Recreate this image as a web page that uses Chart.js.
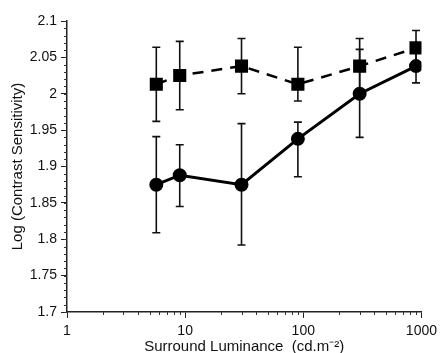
<!DOCTYPE html>
<html lang="en">
<head>
<meta charset="UTF-8">
<title>Contrast sensitivity vs surround luminance</title>
<style>
  html, body { margin: 0; padding: 0; background: #fff; }
  #wrap { width: 442px; height: 353px; }
</style>
</head>
<body>
<div id="wrap"><canvas id="myChart01"></canvas></div>
<script src="https://cdn.jsdelivr.net/npm/chart.js"></script>
<script>
// data
var luminance = [5.7, 9, 30, 90, 300, 900];
var squareVals = [2.013, 2.025, 2.038, 2.013, 2.038, 2.063];
var squareLow = [1.962, 1.978, 2.0, 1.99, 2.0, 2.038];
var squareHigh = [2.064, 2.072, 2.076, 2.064, 2.076, 2.087];
var circleVals = [1.875, 1.888, 1.875, 1.938, 2.0, 2.038];
var circleLow = [1.809, 1.845, 1.792, 1.886, 1.94, 2.015];
var circleHigh = [1.941, 1.930, 1.959, 1.961, 2.061, 2.06];
var xTickVals = [1, 10, 100, 1000];
var xMinorVals = [2, 3, 4, 5, 6, 7, 8, 9, 20, 30, 40, 50, 60, 70, 80, 90, 200, 300, 400, 500, 600, 700, 800, 900];
var yTickVals = [1.7, 1.75, 1.8, 1.85, 1.9, 1.95, 2, 2.05, 2.1];
var yMinorStep = 0.01;

var fontFam = '"Liberation Sans", Arial, Helvetica, sans-serif';

function toPoints(xs, ys) {
    return xs.map(function (x, i) { return { x: x, y: ys[i] }; });
}

// error bars + minor ticks
var errorBars = {
    id: 'errorBars',
    beforeDatasetsDraw: function (chart) {
        var ctx = chart.ctx;
        var xs = chart.scales.x, ys = chart.scales.y;
        var sets = [[squareLow, squareHigh], [circleLow, circleHigh]];
        ctx.save();
        ctx.strokeStyle = '#111';
        ctx.lineWidth = 1.6;
        sets.forEach(function (s) {
            luminance.forEach(function (lx, i) {
                var px = xs.getPixelForValue(lx);
                var y1 = ys.getPixelForValue(s[0][i]);
                var y2 = ys.getPixelForValue(s[1][i]);
                ctx.beginPath();
                ctx.moveTo(px, y1); ctx.lineTo(px, y2);
                ctx.moveTo(px - 4, y1); ctx.lineTo(px + 4, y1);
                ctx.moveTo(px - 4, y2); ctx.lineTo(px + 4, y2);
                ctx.stroke();
            });
        });
        ctx.restore();
    },
    afterDraw: function (chart) {
        var ctx = chart.ctx;
        var xs = chart.scales.x, ys = chart.scales.y;
        var area = chart.chartArea;
        ctx.save();
        ctx.strokeStyle = '#333';
        ctx.lineWidth = 1;
        ctx.beginPath();
        xMinorVals.forEach(function (v) {
            var px = Math.round(xs.getPixelForValue(v)) + 0.5;
            ctx.moveTo(px, area.bottom); ctx.lineTo(px, area.bottom + 3);
        });
        for (var v = 1.7; v <= 2.1001; v += yMinorStep) {
            var py = Math.round(ys.getPixelForValue(v)) + 0.5;
            ctx.moveTo(area.left - 3, py); ctx.lineTo(area.left, py);
        }
        ctx.stroke();
        ctx.restore();
    }
};

var ctx01 = document.getElementById('myChart01');
var chart01 = new Chart(ctx01, {
    type: 'scatter',
    data: {
        datasets: [{
            label: 'squares',
            data: toPoints(luminance, squareVals),
            showLine: true,
            borderColor: '#000',
            backgroundColor: '#000',
            borderWidth: 2.5,
            borderDash: [11, 8],
            pointStyle: 'rect',
            pointRadius: 7.5,
            pointHoverRadius: 7.5
        }, {
            label: 'circles',
            data: toPoints(luminance, circleVals),
            showLine: true,
            borderColor: '#000',
            backgroundColor: '#000',
            borderWidth: 3,
            pointStyle: 'circle',
            pointRadius: 5.5,
            pointHoverRadius: 5.5
        }]
    },
    options: {
        responsive: true,
        maintainAspectRatio: false,
        animation: false,
        layout: { padding: { top: 21, right: 18, left: 0, bottom: 0 } },
        plugins: { legend: { display: false }, tooltip: { enabled: false } },
        scales: {
            x: {
                type: 'logarithmic',
                min: 1,
                max: 1000,
                afterBuildTicks: function (scale) {
                    scale.ticks = xTickVals.map(function (v) { return { value: v }; });
                },
                afterFit: function (scale) { scale.height = 41; },
                grid: { drawOnChartArea: false, tickLength: 6, tickColor: '#222', tickWidth: 1 },
                border: { color: '#222', width: 1.5 },
                ticks: {
                    autoSkip: false,
                    maxRotation: 0,
                    padding: 5,
                    color: '#111',
                    font: { family: fontFam, size: 14 },
                    callback: function (v) { return String(v); }
                },
                title: {
                    display: true,
                    text: 'Surround Luminance  (cd.m\u207B\u00B2)',
                    color: '#111',
                    font: { family: fontFam, size: 15 },
                    padding: { top: 0, bottom: -3 }
                }
            },
            y: {
                min: 1.7,
                max: 2.1,
                afterBuildTicks: function (scale) {
                    scale.ticks = yTickVals.map(function (v) { return { value: v }; });
                },
                afterFit: function (scale) { scale.width = 67; },
                grid: { drawOnChartArea: false, tickLength: 6, tickColor: '#222', tickWidth: 1 },
                border: { color: '#222', width: 1.5 },
                ticks: {
                    autoSkip: false,
                    padding: 4,
                    color: '#111',
                    font: { family: fontFam, size: 14 },
                    callback: function (v) { return String(Number(v.toFixed(2))); }
                },
                title: {
                    display: true,
                    text: 'Log (Contrast Sensitivity)',
                    color: '#111',
                    font: { family: fontFam, size: 15 },
                    padding: { top: 9, bottom: 0 }
                }
            }
        }
    },
    plugins: [errorBars]
});
</script>
</body>
</html>
